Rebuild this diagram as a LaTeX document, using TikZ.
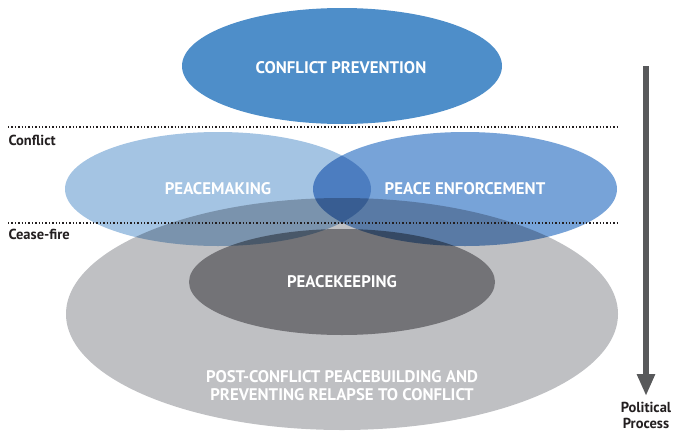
\documentclass[tikz,border=0pt]{standalone}
\usepackage{fontspec}
\setmainfont{PT Sans}
\usepackage{tikz}
\usetikzlibrary{arrows.meta}

\definecolor{prevblue}{RGB}{78,142,201}
\definecolor{makeblue}{RGB}{164,196,227}
\definecolor{enfblue}{RGB}{119,163,216}
\definecolor{buildgrey}{RGB}{191,192,195}
\definecolor{keepgrey}{RGB}{154,154,156}
\definecolor{arrowgrey}{RGB}{88,89,91}
\definecolor{sidetext}{RGB}{35,31,32}

\tikzset{
  inlabel/.style={text=white, font=\fontsize{16.8}{18}\selectfont\bfseries, align=center},
  sidelabel/.style={text=sidetext, font=\fontsize{14.5}{16}\selectfont\bfseries, align=center},
  phaseline/.style={sidetext, line width=1.4pt, dash pattern=on 1.4pt off 2pt},
  mixfill/.style={blend mode=multiply},
}

\begin{document}
\begin{tikzpicture}[x=1pt, y=-1pt]

  \newcommand\MX{342};
  \useasboundingbox (0,0) rectangle (674,431);

  %% the ovals
  \fill[buildgrey, mixfill] (\MX, 314) ellipse (276 and 116); % post-conflict
  \fill[keepgrey, mixfill]  (\MX, 282) ellipse (153 and 53);  % peacekeeping
  \fill[makeblue, mixfill]  (218, 189) ellipse (153 and 57);  % peacemaking
  \fill[enfblue, mixfill]   (465, 189) ellipse (152 and 57);  % enforcement
  \fill[prevblue]           (\MX, 66)  ellipse (160 and 58);  % prevention

  %% phase lines
  \coordinate (cfl) at (8, 127);  \coordinate (cfr) at (618, 127);
  \coordinate (cel) at (8, 223);  \coordinate (cer) at (618, 223);
  \draw[phaseline] (cfl) -- (cfr);
  \draw[phaseline] (cel) -- (cer);
  \node[sidelabel, anchor=west] (conflict) at (5, 140) {Conflict};
  \node[sidelabel, anchor=west] (ceasefire) at (5, 234) {Cease-fire};

  %% labels inside
  \node[inlabel] (prevention) at (341, 68) {CONFLICT PREVENTION};
  \node[inlabel] (making) at (218, 189) {PEACEMAKING};
  \node[inlabel] (enforcement) at (465, 189) {PEACE ENFORCEMENT};
  \node[inlabel] (keeping) at (\MX, 282) {PEACEKEEPING};
  \node[inlabel] (building) at (\MX, 386)
    {POST-CONFLICT PEACEBUILDING AND\\PREVENTING RELAPSE TO CONFLICT};

  %% political process
  \coordinate (ptop) at (646, 66);
  \coordinate (pbot) at (646, 396);
  \draw[arrowgrey, line width=6pt, -{Triangle[length=22pt, width=17pt]}] (ptop) -- (pbot);
  \node[sidelabel] (political) at (646, 415) {Political\\Process};

\end{tikzpicture}
\end{document}
